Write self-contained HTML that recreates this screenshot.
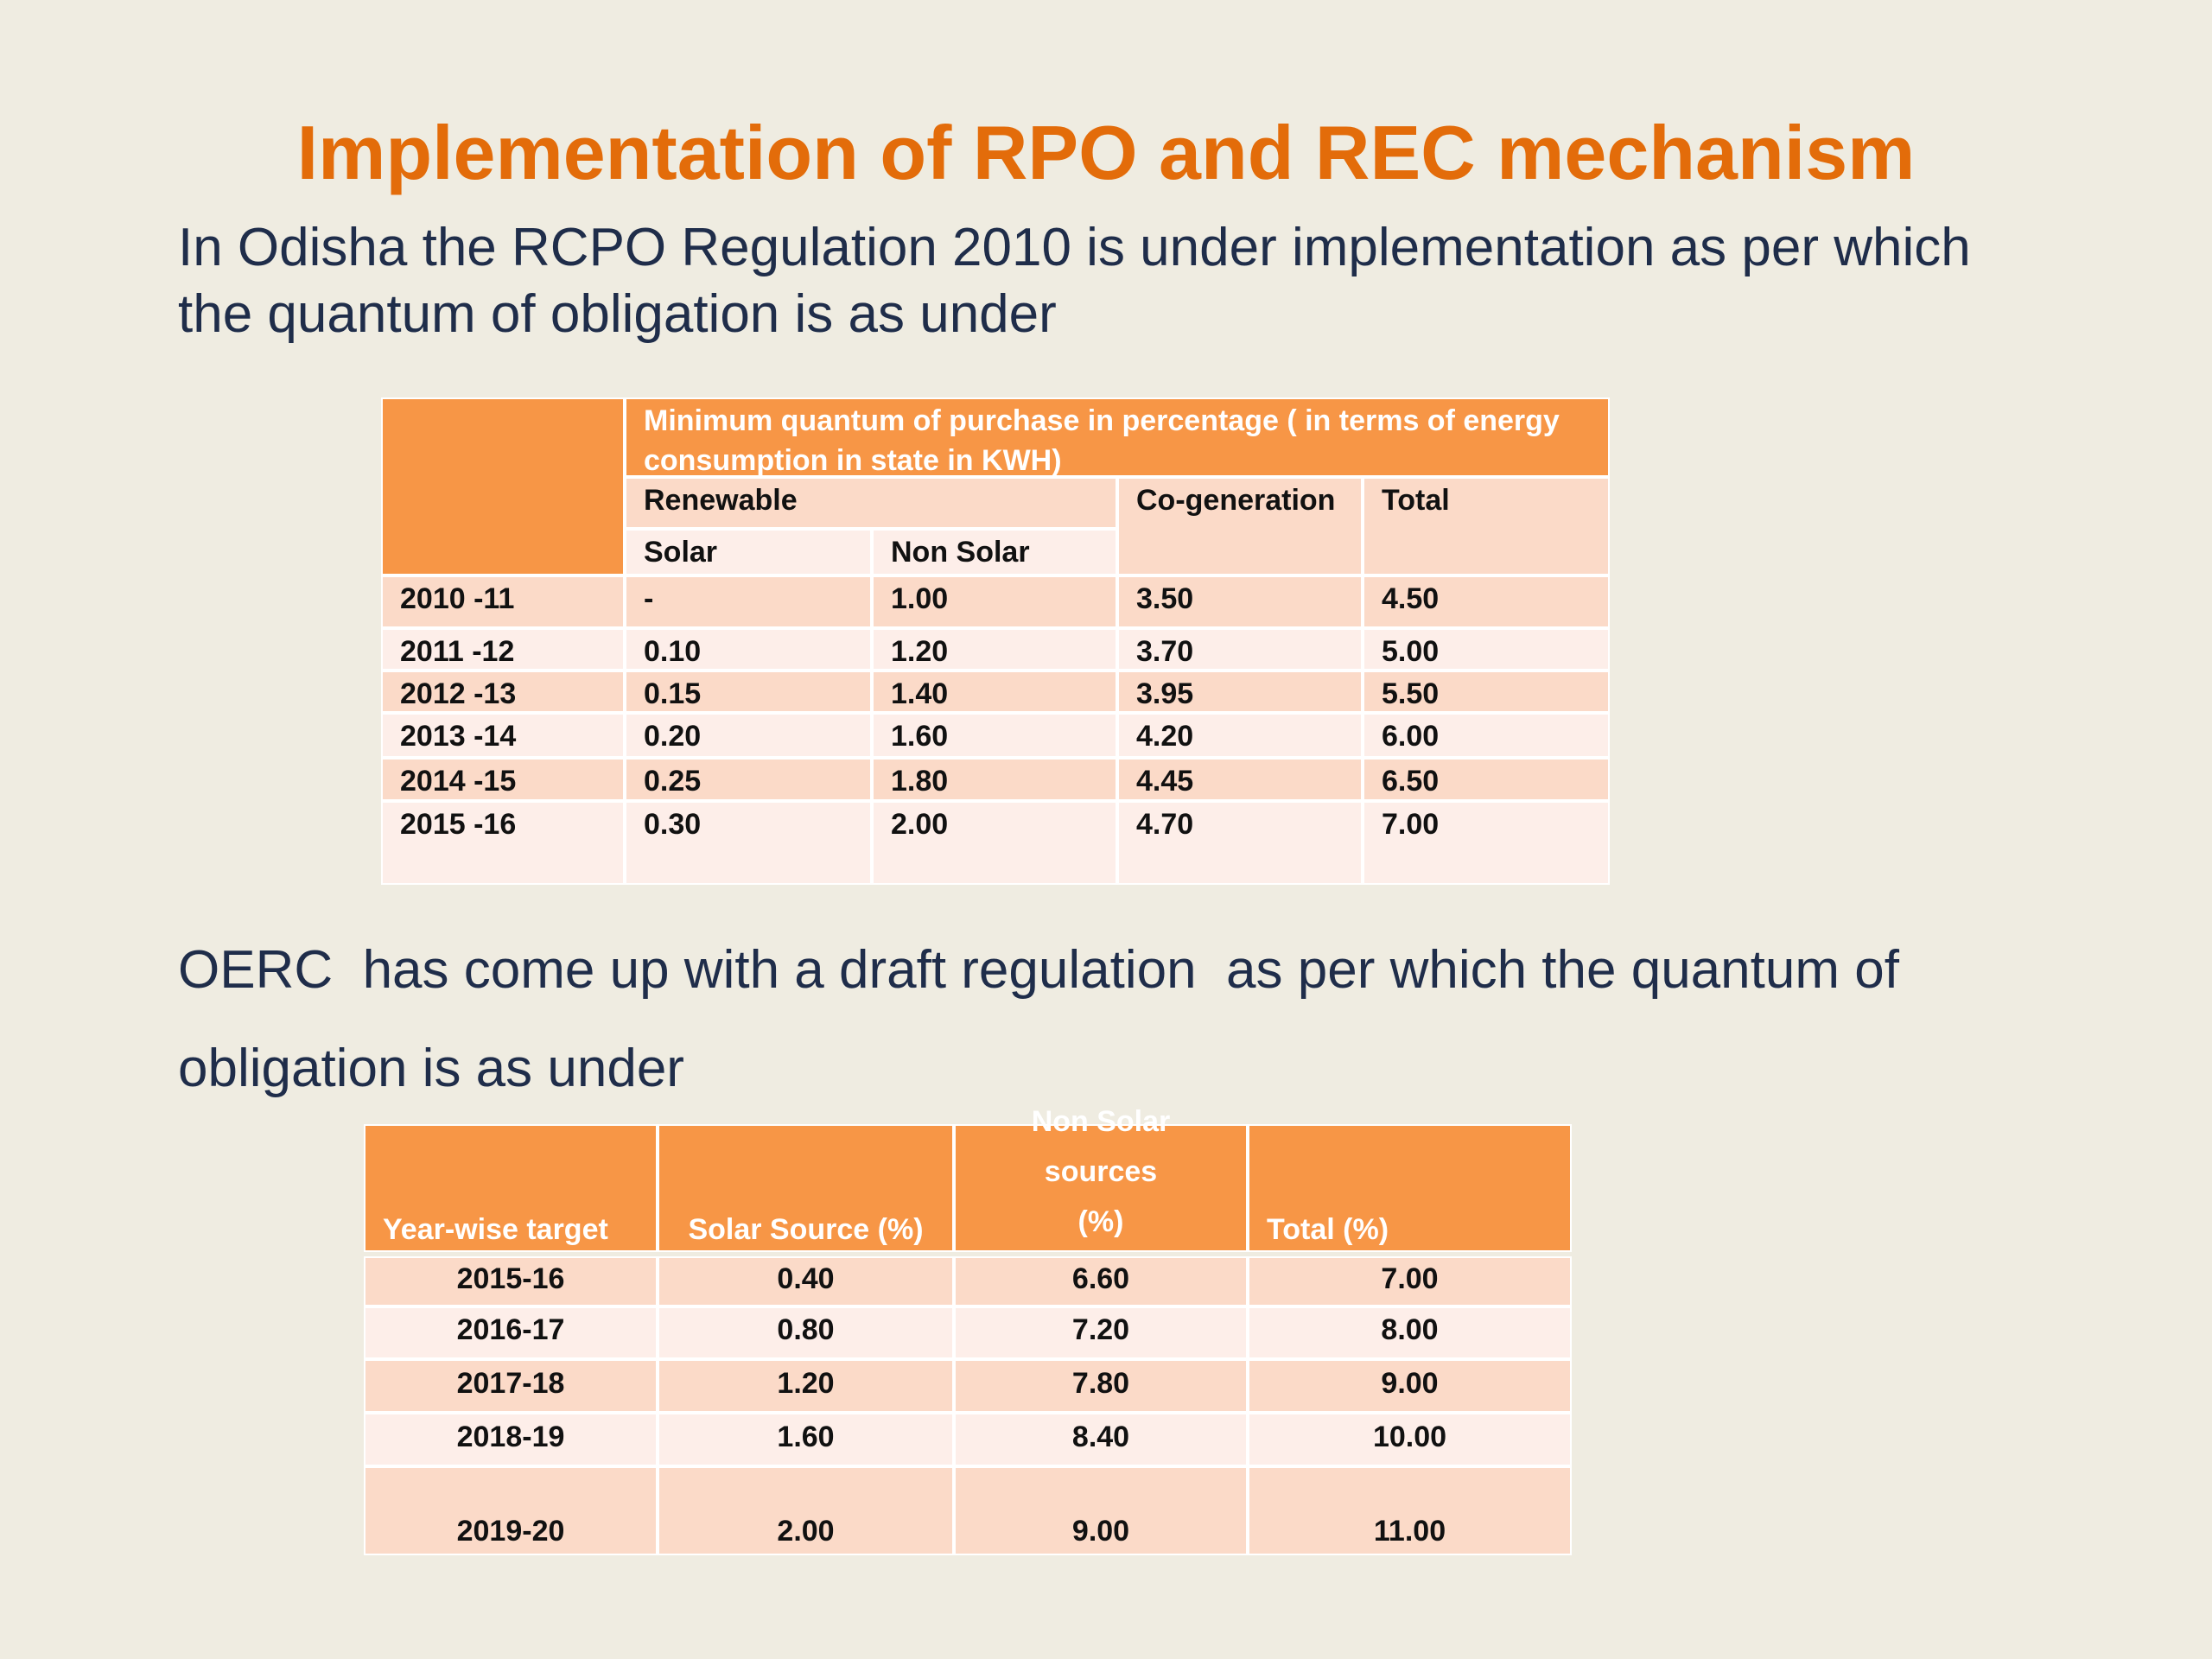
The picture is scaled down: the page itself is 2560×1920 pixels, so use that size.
<!DOCTYPE html>
<html><head><meta charset="utf-8">
<style>
body{margin:0;width:2560px;height:1920px;background:#efece1;position:relative;overflow:hidden;font-family:"Liberation Sans",sans-serif}
.t{position:absolute;white-space:nowrap}
.c{position:absolute;box-sizing:border-box;border:2px solid #fff;font-family:"Liberation Sans Narrow","Liberation Sans",sans-serif;font-weight:bold;font-size:34px;color:#111;display:flex;padding:0 20px}
.o{background:#f79646;color:#fff}
.d{background:#fbdac8}
.l{background:#fdeee9}
</style></head><body>
<div class="t" style="left:0;width:2560px;text-align:center;top:126px;font-size:88px;font-weight:bold;color:#e36c0a">Implementation of RPO and REC mechanism</div>
<div class="t" style="left:206px;top:248px;font-size:62px;line-height:77px;color:#1f2d4a">In Odisha the RCPO Regulation 2010 is under implementation as per which<br>the quantum of obligation is as under</div>
<div class="t" style="left:206px;top:1066px;font-size:62px;line-height:114px;color:#1f2d4a">OERC&nbsp; has come up with a draft regulation&nbsp; as per which the quantum of<br>obligation is as under</div>
<div id="t1"></div>
<div id="t2"></div>
<script>
const years1=["2010 -11","2011 -12","2012 -13","2013 -14","2014 -15","2015 -16"];
const solar1=["-","0.10","0.15","0.20","0.25","0.30"];
const nonSolar1=["1.00","1.20","1.40","1.60","1.80","2.00"];
const cogen1=["3.50","3.70","3.95","4.20","4.45","4.70"];
const total1=["4.50","5.00","5.50","6.00","6.50","7.00"];
const years2=["2015-16","2016-17","2017-18","2018-19","2019-20"];
const solar2=["0.40","0.80","1.20","1.60","2.00"];
const nonSolar2=["6.60","7.20","7.80","8.40","9.00"];
const total2=["7.00","8.00","9.00","10.00","11.00"];
function cell(parent,x1,y1,x2,y2,cls,html,align,just,name){
  const e=document.createElement('div');
  e.className='c '+cls;
  
  
  e.style.left=x1+'px';e.style.top=y1+'px';e.style.width=(x2-x1)+'px';e.style.height=(y2-y1)+'px';
  e.style.alignItems=align;e.style.justifyContent=just;
  e.innerHTML=html;parent.appendChild(e);
}
const T1=document.getElementById('t1');
const cx=[441,723,1009,1293,1577,1863];
cell(T1,441,460,723,666,'o','', 'flex-start','flex-start','corner-cell');
cell(T1,723,460,1863,552,'o','<div style="line-height:46px;padding-top:2px">Minimum quantum of purchase in percentage ( in terms of energy<br>consumption in state in KWH)</div>','flex-start','flex-start','header-main');
cell(T1,723,552,1293,612,'d','<div style="padding-top:6px">Renewable</div>','flex-start','flex-start','header-renewable');
cell(T1,723,612,1009,666,'l','<div style="padding-top:6px">Solar</div>','flex-start','flex-start','header-solar');
cell(T1,1009,612,1293,666,'l','<div style="padding-top:6px">Non Solar</div>','flex-start','flex-start','header-non-solar');
cell(T1,1293,552,1577,666,'d','<div style="padding-top:6px">Co-generation</div>','flex-start','flex-start','header-cogeneration');
cell(T1,1577,552,1863,666,'d','<div style="padding-top:6px">Total</div>','flex-start','flex-start','header-total');
const ry=[666,727,776,825,877,927,1024];
for(let i=0;i<years1.length;i++){
  const cls=i%2==0?'d':'l';
  const vals=[years1[i],solar1[i],nonSolar1[i],cogen1[i],total1[i]];
  for(let j=0;j<5;j++){
    cell(T1,cx[j],ry[i],cx[j+1],ry[i+1],cls,'<div style="padding-top:6px">'+vals[j]+'</div>','flex-start','flex-start','t1-cell');
  }
}
const T2=document.getElementById('t2');
const dx=[421,761,1104,1444,1819];
const heads=["Year-wise target","Solar Source (%)","<div style='text-align:center;line-height:58px'>Non Solar sources<br>(%)</div>","Total (%)"];
const hj=['flex-start','center','center','flex-start'];
for(let j=0;j<4;j++){
  cell(T2,dx[j],1301,dx[j+1],1449,'o','<div style="padding-bottom:4px">'+heads[j]+'</div>','flex-end',hj[j],'t2-header');
}
const dy=[1454,1512,1573,1635,1697,1800];
for(let i=0;i<years2.length;i++){
  const cls=i%2==0?'d':'l';
  const vals=[years2[i],solar2[i],nonSolar2[i],total2[i]];
  for(let j=0;j<4;j++){
    cell(T2,dx[j],dy[i],dx[j+1],dy[i+1],cls,'<div style="padding-bottom:6px">'+vals[j]+'</div>',i==4?'flex-end':'center','center','t2-cell');
  }
}
</script>
</body></html>
